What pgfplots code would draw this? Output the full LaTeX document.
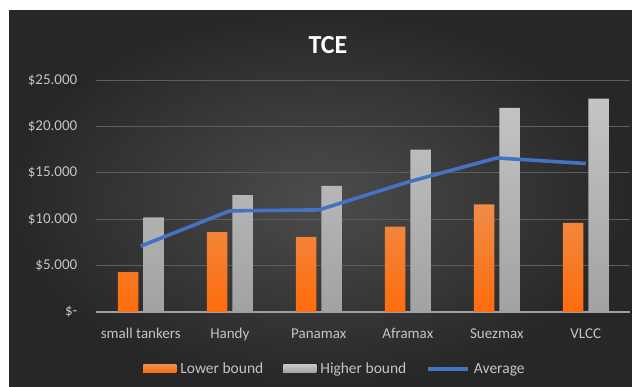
\documentclass[border=0pt]{standalone}
\usepackage{fontspec}
\setmainfont{Carlito}
\usepackage{pgfplots}
\pgfplotsset{compat=1.18}
\definecolor{bgin}{HTML}{4C4C4C}
\definecolor{bgout}{HTML}{272727}
\definecolor{textc}{HTML}{C4C4C4}
\definecolor{gridc}{HTML}{5E5E5E}
\definecolor{basec}{HTML}{A0A0A0}
\definecolor{otop}{HTML}{EF8C48}
\definecolor{obot}{HTML}{FF6C0C}
\definecolor{gtop}{HTML}{C4C4C4}
\definecolor{gbot}{HTML}{A2A2A2}
\definecolor{bluel}{HTML}{4472C4}
\begin{document}
\begin{tikzpicture}[x=1pt,y=1pt]
\fill[white] (0,0) rectangle (632,387);
\shade[inner color=bgin, outer color=bgout] (9,0) rectangle (632,376);
\node[text=white, font=\fontsize{26}{30}\selectfont\bfseries] at (328,342) {TCE};
\begin{axis}[
  at={(96.3pt,75pt)}, anchor=south west, scale only axis,
  width=534pt, height=232pt,
  xmin=-0.5, xmax=5.5, ymin=0, ymax=25000,
  scaled y ticks=false,
  axis line style={draw=none}, tick style={draw=none},
  xtick={0,1,2,3,4,5},
  xticklabels={small tankers, Handy, Panamax, Aframax, Suezmax, VLCC},
  ytick={0,5000,10000,15000,20000,25000},
  yticklabels={\$-\hspace{5pt}, \$5.000, \$10.000, \$15.000, \$20.000, \$25.000},
  ymajorgrids, grid style={color=gridc, line width=0.9pt},
  extra y ticks={0}, extra y tick labels={},
  extra y tick style={grid style={color=basec, line width=1.1pt}},
  ticklabel style={text=textc, font=\fontsize{15}{17}\selectfont},
  xticklabel style={anchor=base, yshift=-27pt},
  yticklabel style={anchor=east, xshift=-15.5pt},
  legend columns=3,
  legend cell align=left,
  legend style={at={(0.447,-0.2457)}, anchor=center, draw=none, fill=none,
    text=textc, font=\fontsize{15.5}{17}\selectfont,
    /tikz/every odd column/.append style={column sep=2pt},
    /tikz/every even column/.append style={column sep=18pt}},
]
\addplot[ybar, bar width=20.5pt, bar shift=-12.8pt, draw=none, top color=otop, bottom color=obot,
  legend image code/.code={\fill[otop!50!obot] (0pt,-4pt) rectangle (33pt,4pt);}]
  coordinates {(0,4300) (1,8600) (2,8100) (3,9200) (4,11600) (5,9600)};
\addlegendentry{Lower bound}
\addplot[ybar, bar width=20.5pt, bar shift=12.8pt, draw=none, top color=gtop, bottom color=gbot,
  legend image code/.code={\fill[gtop!50!gbot] (0pt,-4pt) rectangle (33pt,4pt);}]
  coordinates {(0,10200) (1,12600) (2,13600) (3,17500) (4,22000) (5,23000)};
\addlegendentry{Higher bound}
\addplot[bluel, line width=3.6pt, line join=round, mark=none,
  legend image code/.code={\draw[bluel, line width=3.6pt] (0pt,0pt) -- (40pt,0pt);}]
  coordinates {(0,7100) (1,10900) (2,11000) (3,14000) (4,16600) (5,16000)};
\addlegendentry{Average}
\end{axis}
\end{tikzpicture}
\end{document}
